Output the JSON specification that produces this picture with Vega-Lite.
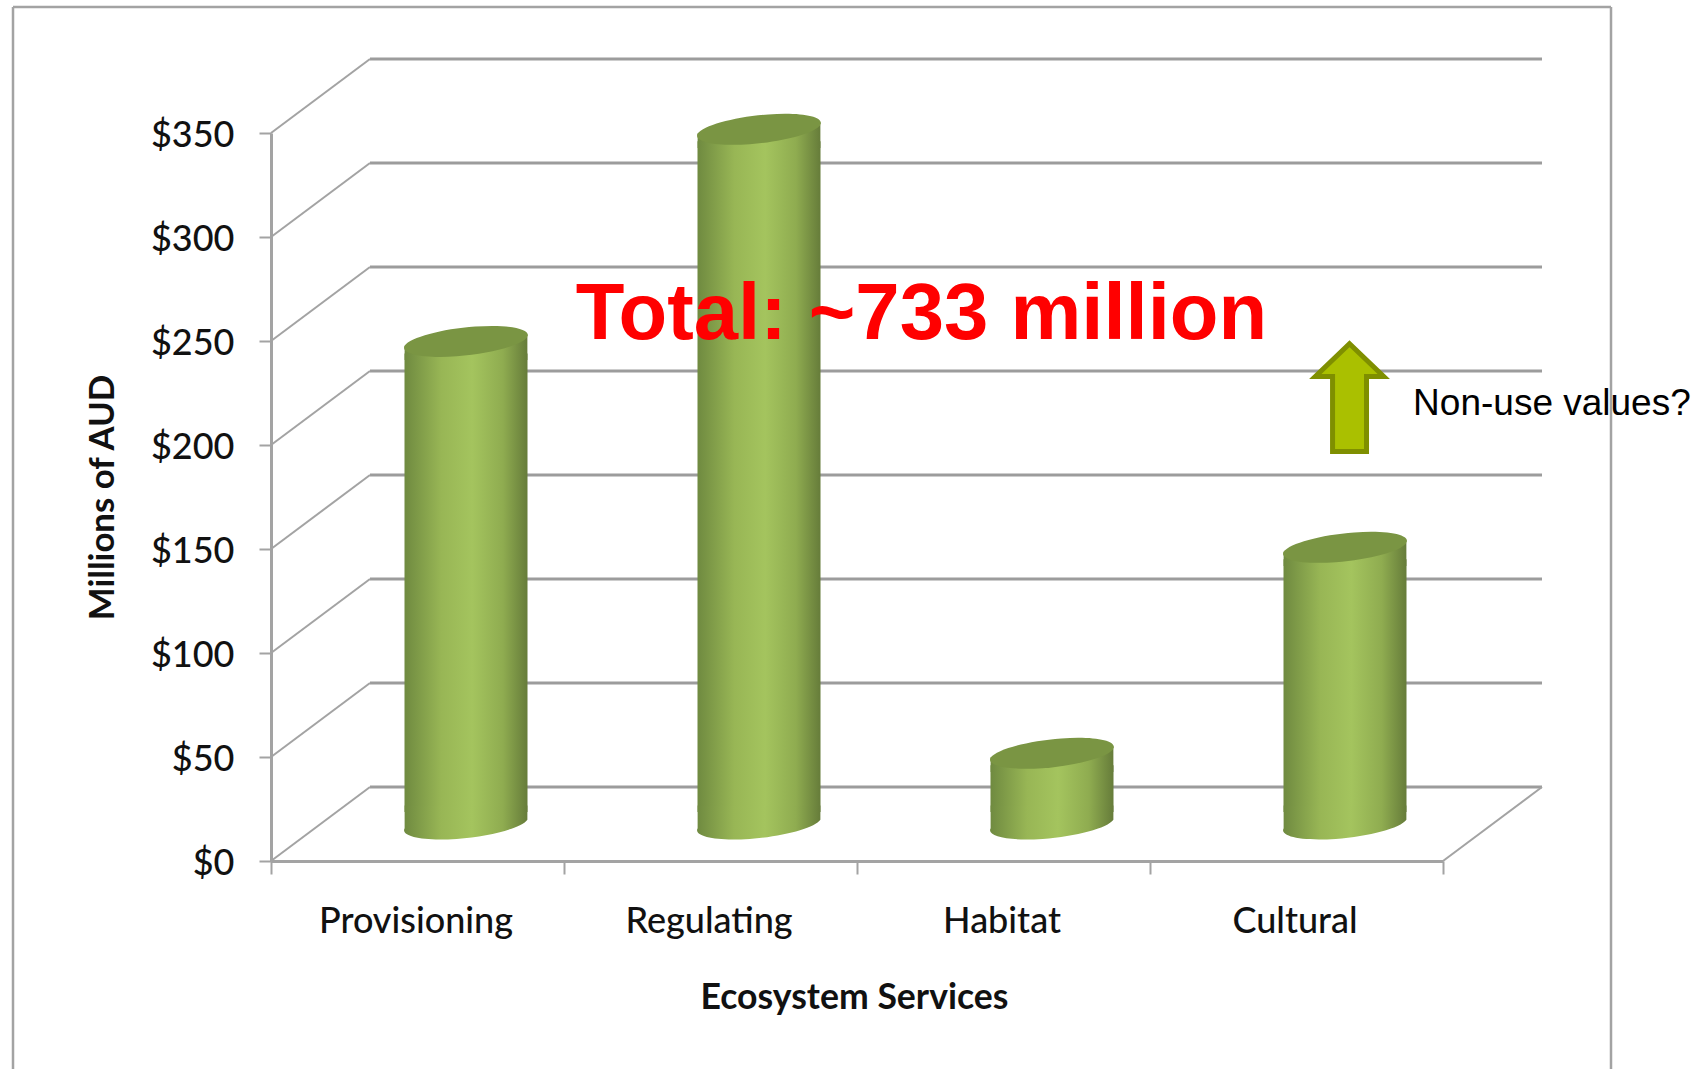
{
  "$schema": "https://vega.github.io/schema/vega-lite/v6.json",
  "autosize": {"type": "none"},
  "padding": {"left": 271, "top": 133, "right": 256, "bottom": 208},
  "width": 1172,
  "height": 728,
  "background": "white",
  "config": {"view": {"stroke": null}},
  "datasets": {
    "services": [
      {"service": "Provisioning", "value": 232},
      {"service": "Regulating", "value": 334},
      {"service": "Habitat", "value": 34},
      {"service": "Cultural", "value": 133}
    ],
    "levels": [
      {"level": 0}, {"level": 50}, {"level": 100}, {"level": 150},
      {"level": 200}, {"level": 250}, {"level": 300}, {"level": 350}
    ]
  },
  "resolve": {"scale": {"x": "independent"}, "axis": {"x": "independent", "y": "independent"}},
  "layer": [
    {
      "data": {"name": "levels"},
      "encoding": {
        "y": {"field": "level", "type": "quantitative", "scale": {"domain": [0, 350], "nice": false}, "axis": null},
        "y2": {"field": "level"}
      },
      "layer": [
        {
          "mark": {"type": "rule", "stroke": "#A3A3A3", "strokeWidth": 2.5, "xOffset": -258, "x2Offset": -258, "yOffset": -126, "y2Offset": 208},
          "transform": [{"filter": "datum.level == 350"}],
          "encoding": {
            "x": {"datum": 0, "type": "quantitative", "scale": {"domain": [0, 4], "nice": false, "zero": false}, "axis": null},
            "x2": {"datum": 0},
            "y2": {"datum": 0}
          }
        },
        {
          "mark": {"type": "rule", "stroke": "#A3A3A3", "strokeWidth": 2.5, "xOffset": 168, "x2Offset": 168, "yOffset": -126, "y2Offset": 208},
          "transform": [{"filter": "datum.level == 350"}],
          "encoding": {
            "x": {"datum": 4, "type": "quantitative"},
            "x2": {"datum": 4},
            "y2": {"datum": 0}
          }
        },
        {
          "mark": {"type": "rule", "stroke": "#A3A3A3", "strokeWidth": 2.5, "xOffset": -258, "x2Offset": 168, "yOffset": -126, "y2Offset": -126},
          "transform": [{"filter": "datum.level == 350"}],
          "encoding": {
            "x": {"datum": 0, "type": "quantitative"},
            "x2": {"datum": 4}
          }
        },
        {
          "mark": {"type": "rule", "stroke": "#9C9C9C", "strokeWidth": 3, "xOffset": 99, "x2Offset": 99, "yOffset": -74, "y2Offset": -74},
          "encoding": {
            "x": {"datum": 0, "type": "quantitative"},
            "x2": {"datum": 4}
          }
        },
        {
          "mark": {"type": "rule", "stroke": "#A3A3A3", "strokeWidth": 2, "x2Offset": 99, "y2Offset": -74},
          "encoding": {
            "x": {"datum": 0, "type": "quantitative"},
            "x2": {"datum": 0}
          }
        },
        {
          "mark": {"type": "rule", "stroke": "#A3A3A3", "strokeWidth": 2, "x2Offset": 99, "y2Offset": -74},
          "transform": [{"filter": "datum.level == 0"}],
          "encoding": {
            "x": {"datum": 4, "type": "quantitative"},
            "x2": {"datum": 4}
          }
        }
      ]
    },
    {
      "data": {"name": "services"},
      "encoding": {
        "x": {
          "field": "service",
          "type": "nominal",
          "sort": ["Provisioning", "Regulating", "Habitat", "Cultural"],
          "scale": {"paddingInner": 0, "paddingOuter": 0},
          "axis": {
            "orient": "bottom",
            "title": "Ecosystem Services",
            "titleX": 583,
            "labelAngle": 0,
            "labelLimit": 500,
            "labelOffset": -2,
            "tickBand": "extent",
            "tickSize": 13,
            "tickWidth": 2,
            "tickColor": "#A3A3A3",
            "domainColor": "#A3A3A3",
            "domainWidth": 3,
            "labelFont": "Lato",
            "labelFontSize": 36,
            "labelFontWeight": 500,
            "labelColor": "#111111",
            "labelPadding": 30,
            "titleFont": "Lato",
            "titleFontSize": 35.6,
            "titleFontWeight": 700,
            "titleColor": "#111111",
            "titlePadding": 41
          }
        },
        "y": {
          "field": "value",
          "type": "quantitative",
          "scale": {"domain": [0, 350], "nice": false},
          "axis": {
            "orient": "left",
            "title": "Millions of AUD",
            "values": [0, 50, 100, 150, 200, 250, 300, 350],
            "format": "$,.0f",
            "grid": false,
            "tickSize": 12,
            "tickWidth": 2,
            "tickColor": "#A3A3A3",
            "domainColor": "#A3A3A3",
            "domainWidth": 3,
            "labelFont": "Lato",
            "labelFontSize": 36,
            "labelFontWeight": 500,
            "labelColor": "#111111",
            "labelPadding": 25,
            "labelOffset": 2,
            "titleFont": "Lato",
            "titleFontSize": 34.8,
            "titleFontWeight": 700,
            "titleColor": "#111111",
            "titlePadding": 30
          }
        }
      },
      "layer": [
        {
          "mark": {
            "type": "bar",
            "width": 123,
            "xOffset": 48.5,
            "x2Offset": 48.5,
            "yOffset": -25,
            "y2Offset": -49,
            "fill": {
              "gradient": "linear", "x1": 0, "x2": 1, "y1": 0, "y2": 0,
              "stops": [
                {"offset": 0, "color": "#6F8A40"},
                {"offset": 0.3, "color": "#98B655"},
                {"offset": 0.55, "color": "#A4C45E"},
                {"offset": 0.8, "color": "#8FAC50"},
                {"offset": 1, "color": "#667C3A"}
              ]
            }
          },
          "encoding": {"y2": {"datum": 0}}
        },
        {
          "mark": {
            "type": "point",
            "filled": true,
            "opacity": 1,
            "size": 15376,
            "xOffset": 48.5,
            "yOffset": -37,
            "shape": "M0.99,-0.07 L0.99,-0.3 L-0.99,-0.3 L-0.99,0.07 C-1.063,0.203 -0.691,0.279 -0.15,0.24 C0.391,0.201 0.897,0.063 0.99,-0.07 Z",
            "fill": {
              "gradient": "linear", "x1": 0, "x2": 1, "y1": 0, "y2": 0,
              "stops": [
                {"offset": 0, "color": "#6F8A40"},
                {"offset": 0.3, "color": "#98B655"},
                {"offset": 0.55, "color": "#A4C45E"},
                {"offset": 0.8, "color": "#8FAC50"},
                {"offset": 1, "color": "#667C3A"}
              ]
            }
          },
          "encoding": {"y": {"datum": 0}}
        },
        {
          "mark": {
            "type": "point",
            "filled": true,
            "opacity": 1,
            "size": 15376,
            "xOffset": 48.5,
            "yOffset": -37,
            "shape": "M-0.99,0.07 L0.99,-0.07 L0.99,0.3 L-0.99,0.3 Z",
            "fill": {
              "gradient": "linear", "x1": 0, "x2": 1, "y1": 0, "y2": 0,
              "stops": [
                {"offset": 0, "color": "#6F8A40"},
                {"offset": 0.3, "color": "#98B655"},
                {"offset": 0.55, "color": "#A4C45E"},
                {"offset": 0.8, "color": "#8FAC50"},
                {"offset": 1, "color": "#667C3A"}
              ]
            }
          }
        },
        {
          "mark": {
            "type": "point",
            "filled": true,
            "opacity": 1,
            "size": 15376,
            "xOffset": 48.5,
            "yOffset": -37,
            "shape": "M0.99,-0.07 C1.063,-0.203 0.691,-0.279 0.15,-0.24 C-0.391,-0.201 -0.897,-0.063 -0.99,0.07 C-1.063,0.203 -0.691,0.279 -0.15,0.24 C0.391,0.201 0.897,0.063 0.99,-0.07 Z",
            "fill": "#7A9543"
          }
        }
      ]
    },
    {
      "data": {"values": [{"note": "annotations"}]},
      "layer": [
        {
          "mark": {"type": "text", "text": "Total: ~733 million", "font": "Liberation Sans", "fontWeight": "bold", "fontSize": 79.7, "fill": "#FF0000", "align": "left", "baseline": "alphabetic"},
          "encoding": {
            "x": {"datum": 1.04, "type": "quantitative", "scale": {"domain": [0, 4], "nice": false, "zero": false}, "axis": null},
            "y": {"datum": 251, "type": "quantitative", "axis": null}
          }
        },
        {
          "mark": {"type": "text", "text": "Non-use values?", "font": "Liberation Sans", "fontSize": 37, "fill": "#000000", "align": "left", "baseline": "alphabetic"},
          "encoding": {
            "x": {"datum": 3.898, "type": "quantitative"},
            "y": {"datum": 214.4, "type": "quantitative", "axis": null}
          }
        },
        {
          "mark": {
            "type": "point",
            "filled": true,
            "opacity": 1,
            "size": 14400,
            "fill": "#AAC000",
            "stroke": "#7F8F00",
            "strokeWidth": 5,
            "strokeOpacity": 1,
            "shape": "M0,-0.88 L0.57,-0.333 L0.283,-0.333 L0.283,0.917 L-0.283,0.917 L-0.283,-0.333 L-0.57,-0.333 Z"
          },
          "encoding": {
            "x": {"datum": 3.681, "type": "quantitative"},
            "y": {"datum": 223.3, "type": "quantitative", "axis": null}
          }
        }
      ]
    }
  ]
}
